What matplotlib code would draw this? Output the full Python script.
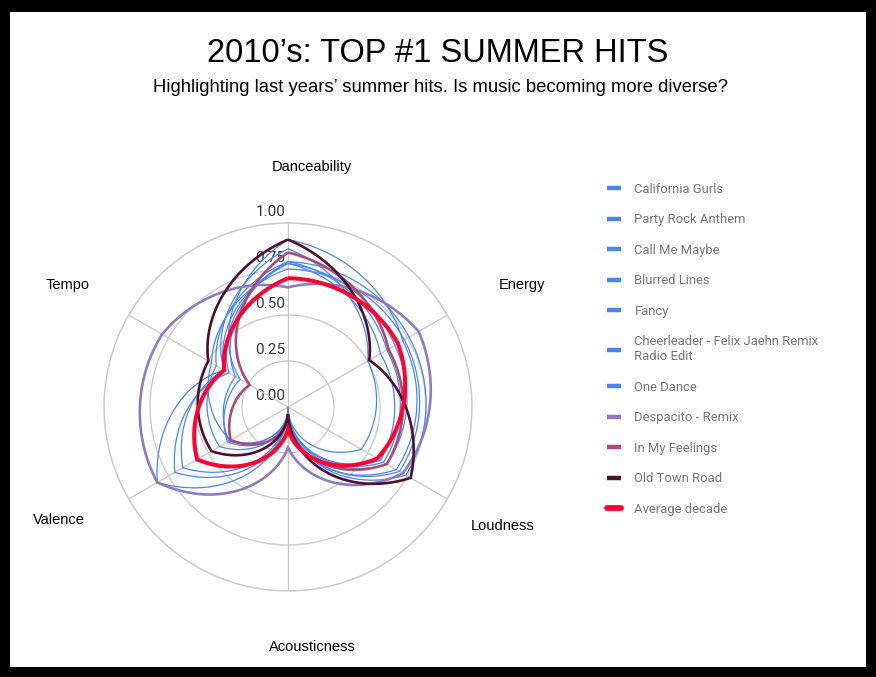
import numpy as np
import matplotlib.pyplot as plt
from matplotlib.lines import Line2D
from matplotlib.patches import Rectangle, PathPatch
from matplotlib.path import Path

# Audio features, clockwise from the top of the radar
features = ['Danceability', 'Energy', 'Loudness', 'Acousticness', 'Valence', 'Tempo']

songs = ['California Gurls', 'Party Rock Anthem', 'Call Me Maybe', 'Blurred Lines',
         'Fancy', 'Cheerleader - Felix Jaehn Remix\nRadio Edit', 'One Dance',
         'Despacito - Remix', 'In My Feelings', 'Old Town Road', 'Average decade']

california_gurls = [0.79, 0.76, 0.74, 0.01, 0.43, 0.45]
party_rock_anthem = [0.75, 0.73, 0.70, 0.02, 0.36, 0.48]
call_me_maybe = [0.78, 0.58, 0.58, 0.01, 0.66, 0.40]
blurred_lines = [0.86, 0.50, 0.46, 0.00, 0.82, 0.40]
fancy = [0.91, 0.72, 0.68, 0.05, 0.38, 0.30]
cheerleader = [0.78, 0.67, 0.62, 0.02, 0.71, 0.37]
one_dance = [0.79, 0.62, 0.60, 0.01, 0.37, 0.33]
despacito = [0.65, 0.82, 0.72, 0.22, 0.82, 0.79]
in_my_feelings = [0.84, 0.63, 0.62, 0.07, 0.36, 0.24]
old_town_road = [0.91, 0.51, 0.77, 0.04, 0.48, 0.50]
average_decade = [0.70, 0.69, 0.56, 0.12, 0.57, 0.40]

series = [california_gurls, party_rock_anthem, call_me_maybe, blurred_lines, fancy,
          cheerleader, one_dance, despacito, in_my_feelings, old_town_road, average_decade]

blue = '#4a86e8'
red = '#ff0033'
colors = [blue] * 7 + ['#8e7cc3', '#a64d79', '#4c1130', red]
widths = [0.9] * 7 + [1.9, 1.9, 1.9, 2.9]

radial_ticks = [0.0, 0.25, 0.5, 0.75, 1.0]

W, H = 876, 677
fig = plt.figure(figsize=(W / 100, H / 100), dpi=100)
fig.patch.set_facecolor('white')

# polar axes: centre at (288, 407) px, radius 184 px
cx, cy, rad = 288, 407, 184
ax = fig.add_axes([(cx - rad) / W, (H - cy - rad) / H, 2 * rad / W, 2 * rad / H],
                  projection='polar')
ax.set_theta_zero_location('N')
ax.set_theta_direction(-1)

angles = np.linspace(0, 2 * np.pi, len(features), endpoint=False)
closed_angles = np.append(angles, 2 * np.pi)

# each song is a closed loop; the path is bent by the polar transform
# (radius changes linearly with angle between two features)
for vals, c, lw in zip(series, colors, widths):
    verts = np.column_stack([closed_angles, vals + vals[:1]])
    path = Path(verts, _interpolation_steps=120)
    ax.add_patch(PathPatch(path, fill=False, edgecolor=c, lw=lw,
                           joinstyle='miter', zorder=3))

# grid
ax.set_rticks(radial_ticks[1:])
ax.set_yticklabels([])
ax.set_thetagrids(np.degrees(angles), labels=[])
ax.grid(color='#cccccc', lw=1)
ax.spines['polar'].set_color('#cccccc')
ax.spines['polar'].set_linewidth(1)
ax.tick_params(length=0)
ax.set_ylim(0, 1)

for r in radial_ticks:
    ax.annotate(f'{r:.2f}', xy=(0, r), xytext=(-2, 3), textcoords='offset points',
                ha='right', va='bottom', fontsize=11, color='#333333',
                family='Roboto', zorder=1)

# feature names around the radar
label_pos = {'Danceability': (312, 167), 'Energy': (522, 285), 'Loudness': (503, 526),
             'Acousticness': (312, 647), 'Valence': (59, 520), 'Tempo': (68, 285)}
for name in features:
    x, y = label_pos[name]
    fig.text(x / W, 1 - y / H, name, ha='center', va='center', fontsize=10.5,
             family='Liberation Sans', color='black')

# titles
fig.text(0.5, 1 - 53 / H, "2010\u2019s: TOP #1 SUMMER HITS", ha='center', va='center',
         fontsize=23.5, family='Liberation Sans', color='black')
fig.text(0.503, 1 - 87 / H,
         "Highlighting last years\u2019 summer hits. Is music becoming more diverse?",
         ha='center', va='center', fontsize=13.3, family='Liberation Sans', color='black')

# legend
handles = [Line2D([], [], color=c, lw=4.2 if c == red else 3.2,
                  solid_capstyle='round' if c == red else 'butt')
           for c in colors]
leg = fig.legend(handles, songs, loc='upper left', bbox_to_anchor=(607 / W, 1 - 183 / H),
                 frameon=False, handlelength=1.1, handletextpad=1.0,
                 labelspacing=1.34, borderpad=0, borderaxespad=0,
                 prop={'family': 'Roboto', 'size': 9.4})
for t in leg.get_texts():
    t.set_color('#757575')

# black frame around the whole figure
fig.add_artist(Rectangle((0, 0), 1, 1, transform=fig.transFigure, fill=False,
                         edgecolor='black', lw=14.4))
fig.add_artist(Rectangle((0, 1 - 12 / H), 1, 12 / H, transform=fig.transFigure,
                         facecolor='black', edgecolor='none'))

fig.savefig('out.png', dpi=100)
